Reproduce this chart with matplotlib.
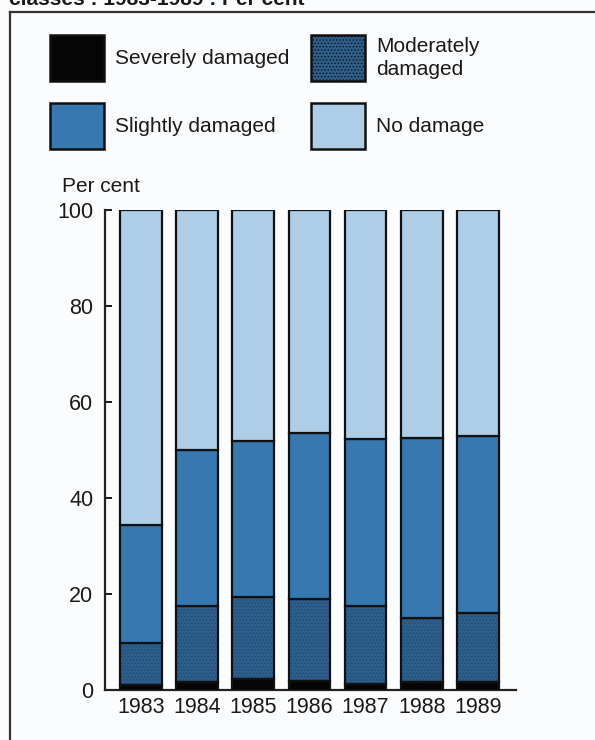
import matplotlib
matplotlib.use("Agg")
import matplotlib.pyplot as plt
from matplotlib.patches import Rectangle
from matplotlib.lines import Line2D
import numpy as np

plt.rcParams['font.family'] = ['Liberation Sans', 'DejaVu Sans']
plt.rcParams['hatch.linewidth'] = 0.6

years = ['1983', '1984', '1985', '1986', '1987', '1988', '1989']
severe = [1.0, 1.7, 2.3, 1.8, 1.3, 1.7, 1.7]
moderate = [8.7, 15.7, 17.0, 17.1, 16.1, 13.4, 14.3]
slight = [24.7, 32.6, 32.6, 34.7, 34.8, 37.3, 36.9]
no_damage = [65.6, 50.0, 48.1, 46.4, 47.8, 47.6, 47.1]

labels = ['Severely damaged', 'Moderately\ndamaged', 'Slightly damaged', 'No damage']
colors = ['#050505', '#2d5e8c', '#3878b0', '#aecde6']
ink = '#1a1a1a'

W, H = 595, 740
fig = plt.figure(figsize=(W / 100, H / 100), dpi=100)
fig.patch.set_facecolor('#fbfcfd')

def fx(px):
    return px / W

def fy(py):
    return 1 - py / H

# title line, running off the top of the page
fig.text(fx(9), fy(5), 'classes : 1983-1989 : Per cent', fontsize=15,
         fontweight='bold', ha='left', va='baseline', color=ink)

# page frame: top and left rules
fig.add_artist(Line2D([fx(10), 1.0], [fy(12), fy(12)], color='#333333', lw=1.6))
fig.add_artist(Line2D([fx(10), fx(10)], [fy(12), 0.0], color='#333333', lw=1.6))

ax = fig.add_axes([fx(105), fy(690), fx(516) - fx(105), fy(210) - fy(690)])
ax.set_facecolor('none')

x = np.arange(len(years))
bw = 0.74
series = [severe, moderate, slight, no_damage]
bottom = np.zeros(len(years))
for i, (vals, col) in enumerate(zip(series, colors)):
    vals = np.array(vals)
    if i == 1:
        ax.bar(x, vals, bw, bottom=bottom, color=col, edgecolor='#1f4a70',
               linewidth=0, hatch='.....', zorder=2)
        ax.bar(x, vals, bw, bottom=bottom, color='none', edgecolor='#111111',
               linewidth=1.6, zorder=3)
    else:
        ax.bar(x, vals, bw, bottom=bottom, color=col, edgecolor='#111111',
               linewidth=1.6, zorder=3)
    bottom = bottom + vals

ax.set_xlim(-0.637, 6.676)
ax.set_ylim(0, 100)
ax.set_xticks(x)
ax.set_xticklabels(years)
ax.set_yticks([0, 20, 40, 60, 80, 100])
ax.tick_params(axis='x', length=0, pad=5, labelsize=15.5, colors=ink)
ax.tick_params(axis='y', direction='in', length=5, width=1.4, pad=8.5,
               labelsize=15.5, colors=ink)
for s in ['top', 'right']:
    ax.spines[s].set_visible(False)
for s in ['left', 'bottom']:
    ax.spines[s].set_linewidth(1.6)
    ax.spines[s].set_color('#222222')

fig.text(fx(62), fy(186), 'Per cent', fontsize=15, ha='left', va='center',
         color=ink)

# legend boxes and labels
boxes = [(50, 35), (311, 35), (50, 103), (311, 103)]
text_pos = [(115, 58), (376, 58), (115, 126), (376, 126)]
for (bx, by), (tx, ty), lab, col in zip(boxes, text_pos, labels, colors):
    r = Rectangle((fx(bx), fy(by + 46)), fx(54), 46 / H, transform=fig.transFigure,
                  facecolor=col, edgecolor='#111111', linewidth=1.8,
                  hatch='.....' if lab.startswith('Moderately') else None)
    fig.add_artist(r)
    fig.text(fx(tx), fy(ty), lab, fontsize=15, ha='left', va='center',
             color=ink, linespacing=1.3)

fig.savefig('out.png', dpi=100, facecolor=fig.get_facecolor())
